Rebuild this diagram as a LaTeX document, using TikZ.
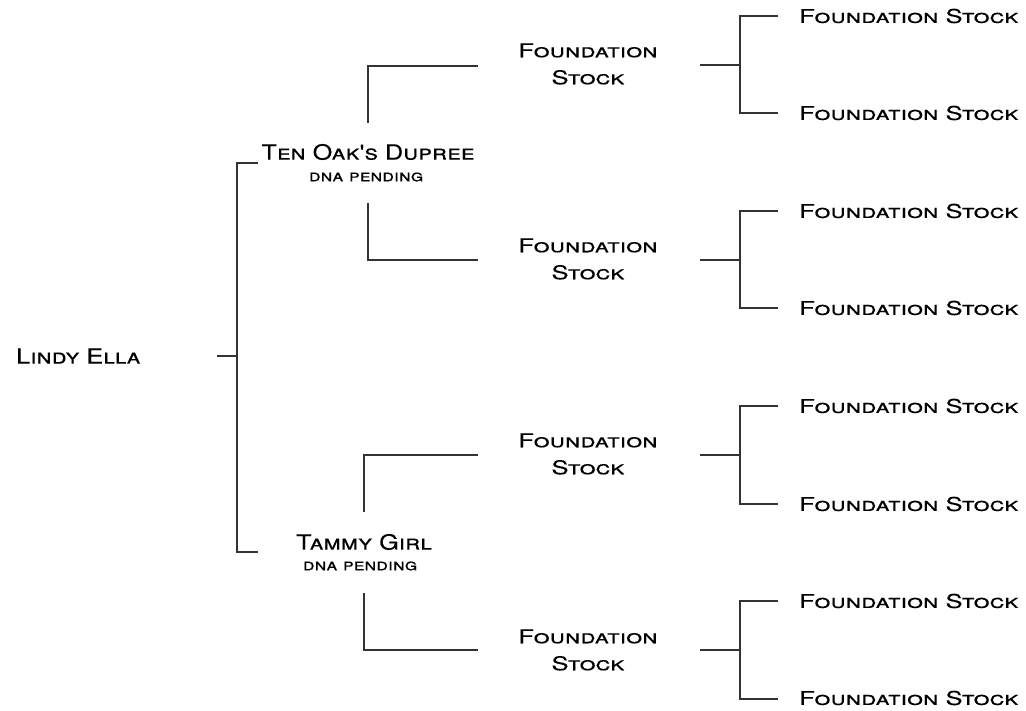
\documentclass[tikz,border=0pt]{standalone}
\usepackage{fontspec}
\setmainfont{TeX Gyre Heros}
\newfontfamily\pedfont[FakeStretch=1.2, FakeBold=0.15]{TeX Gyre Heros}
\newfontfamily\stockfont[FakeStretch=1.35, FakeBold=0.15]{TeX Gyre Heros}
\usetikzlibrary{positioning, calc}
\definecolor{g}{HTML}{333333}

\tikzset{
    horse/.style={font=\pedfont\fontsize{21}{25}\selectfont\scshape, inner sep=0pt},
    founder/.style={font=\stockfont\fontsize{19}{27}\selectfont\scshape, inner sep=0pt, align=center},
    dnatext/.style={font=\pedfont\fontsize{16.5}{18}\selectfont\scshape, inner sep=0pt},
    link/.style={draw=g, line width=1.2pt}
}

\begin{document}
\begin{tikzpicture}[x=1pt, y=-1pt]
    \useasboundingbox (0,0) rectangle (1026,711);

    % subject
    \node[horse, anchor=west] (lindy) at (16,356) {Lindy Ella};

    % parents
    \node[horse] (dupree) at (368,152) {Ten Oak's Dupree};
    \node[dnatext] (dupreedna) at (366,177) {dna pending};
    \node[horse] (tammy) at (364,542) {Tammy Girl};
    \node[dnatext] (tammydna) at (360,566) {dna pending};

    % grandparents
    \node[founder] (gp1) at (588,64) {Foundation\\Stock};
    \node[founder] (gp2) at (588,259) {Foundation\\Stock};
    \node[founder] (gp3) at (588,454) {Foundation\\Stock};
    \node[founder] (gp4) at (588,650) {Foundation\\Stock};

    % great grandparents
    \foreach \n/\y in {1/16, 2/113, 3/211, 4/308, 5/406, 6/504, 7/601, 8/698}
        \node[founder, anchor=west] (ggp\n) at (799,\y) {Foundation Stock};

    % subject -> parents
    \coordinate (s0) at (217,356);
    \coordinate (s1) at (237,356);
    \coordinate (st) at (237,163);
    \coordinate (sb) at (237,552);
    \draw[link] (s0) -- (s1);
    \draw[link] ($(st) + (21,0)$) -- (st) -- (sb) -- ($(sb) + (21,0)$);

    % parents -> grandparents
    \coordinate (d1) at (368,123);
    \coordinate (d2) at (368,203);
    \coordinate (t1) at (364,512);
    \coordinate (t2) at (364,593);
    \draw[link] (d1) -- (d1 |- 0,66) -- (478,66);
    \draw[link] (d2) -- (d2 |- 0,260) -- (478,260);
    \draw[link] (t1) -- (t1 |- 0,455) -- (478,455);
    \draw[link] (t2) -- (t2 |- 0,650) -- (478,650);

    % grandparents -> great grandparents
    \foreach \y/\a/\b in {65/16/113, 260/211/308, 455/406/504, 650/601/699}{
        \draw[link] (700,\y) -- (740,\y);
        \draw[link] (778,\a) -- (740,\a) -- (740,\b) -- (778,\b);
    }

\end{tikzpicture}
\end{document}
